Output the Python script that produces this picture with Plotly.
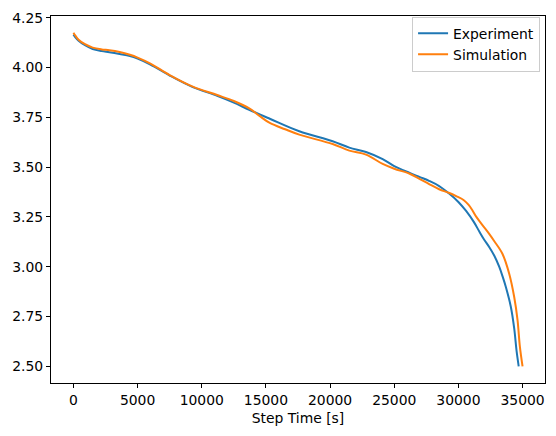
import plotly.graph_objects as go

# Experiment data (Step Time [s], Voltage [V])
t_exp = [0, 150, 400, 900, 1500, 2200, 2800, 3600, 4400, 5000, 6000, 7500, 9300,
         11200, 12500, 13700, 15300, 17600, 20200, 21500, 22800, 24100, 25000,
         26200, 27000, 27750, 28500, 29300, 30000, 30600, 31200, 31620, 32000,
         32400, 32800, 33180, 33450, 33700, 34090, 34350, 34530, 34700]
v_exp = [4.165, 4.152, 4.135, 4.112, 4.093, 4.083, 4.077, 4.068, 4.058, 4.045, 4.015,
         3.960, 3.902, 3.858, 3.824, 3.788, 3.743, 3.680, 3.630, 3.598, 3.576,
         3.540, 3.505, 3.471, 3.450, 3.430, 3.405, 3.366, 3.325, 3.280, 3.225,
         3.178, 3.137, 3.099, 3.055, 3.000, 2.950, 2.898, 2.798, 2.690, 2.580,
         2.500]

# Simulation data
t_sim = [0, 150, 400, 900, 1500, 2200, 2800, 3600, 4400, 5000, 6000, 7500, 9300,
         11200, 12500, 13700, 14500, 15300, 16500, 17600, 20200, 21500, 22800,
         24100, 25000, 26200, 27000, 27750, 28500, 29300, 29900, 30400, 30800,
         31100, 31400, 31800, 32400, 32800, 33440, 33960, 34350, 34610, 34790,
         35000]
v_sim = [4.175, 4.160, 4.140, 4.117, 4.100, 4.091, 4.087, 4.078, 4.064, 4.050, 4.020,
         3.962, 3.904, 3.862, 3.832, 3.795, 3.757, 3.722, 3.690, 3.663, 3.616,
         3.583, 3.563, 3.516, 3.492, 3.467, 3.440, 3.414, 3.389, 3.370, 3.352,
         3.335, 3.310, 3.282, 3.250, 3.215, 3.165, 3.128, 3.064, 2.965, 2.848,
         2.732, 2.600, 2.500]

x_ticks = [0, 5000, 10000, 15000, 20000, 25000, 30000, 35000]
y_ticks = [2.50, 2.75, 3.00, 3.25, 3.50, 3.75, 4.00, 4.25]

FONT = "DejaVu Sans"

fig = go.Figure()
fig.add_trace(go.Scatter(x=t_exp, y=v_exp, mode="lines", name="Experiment",
                         line=dict(color="#1f77b4", width=2, shape="spline", smoothing=1.0)))
fig.add_trace(go.Scatter(x=t_sim, y=v_sim, mode="lines", name="Simulation",
                         line=dict(color="#ff7f0e", width=2, shape="spline", smoothing=1.0)))

xmin, xmax = 0, 35000
ymin, ymax = 2.5, 4.175
xpad = (xmax - xmin) * 0.05
ypad = (ymax - ymin) * 0.05

axis_common = dict(showline=True, mirror=True, linecolor="black", linewidth=1,
                   ticks="outside", ticklen=4, tickwidth=1, tickcolor="black",
                   showgrid=False, zeroline=False,
                   tickfont=dict(family=FONT, size=13.9, color="black"))

fig.update_xaxes(range=[xmin - xpad, xmax + xpad], tickvals=x_ticks,
                 ticktext=[str(v) for v in x_ticks],
                 title=dict(text="Step Time [s]", font=dict(family=FONT, size=13.9, color="black"),
                            standoff=6),
                 **axis_common)
fig.update_yaxes(range=[ymin - ypad, ymax + ypad], tickvals=y_ticks,
                 ticktext=[f"{v:.2f}" for v in y_ticks],
                 **axis_common)

fig.update_layout(
    width=556, height=436,
    margin=dict(l=51, r=10, t=13, b=53),
    paper_bgcolor="white", plot_bgcolor="white",
    font=dict(family=FONT, size=13.9, color="black"),
    legend=dict(x=0.99, y=0.998, xanchor="right", yanchor="top",
                bordercolor="#cccccc", borderwidth=1, bgcolor="rgba(255,255,255,0.8)",
                font=dict(family=FONT, size=13.9, color="black"),
                tracegroupgap=0, itemwidth=30),
    showlegend=True,
)

fig.write_html("out.html")
